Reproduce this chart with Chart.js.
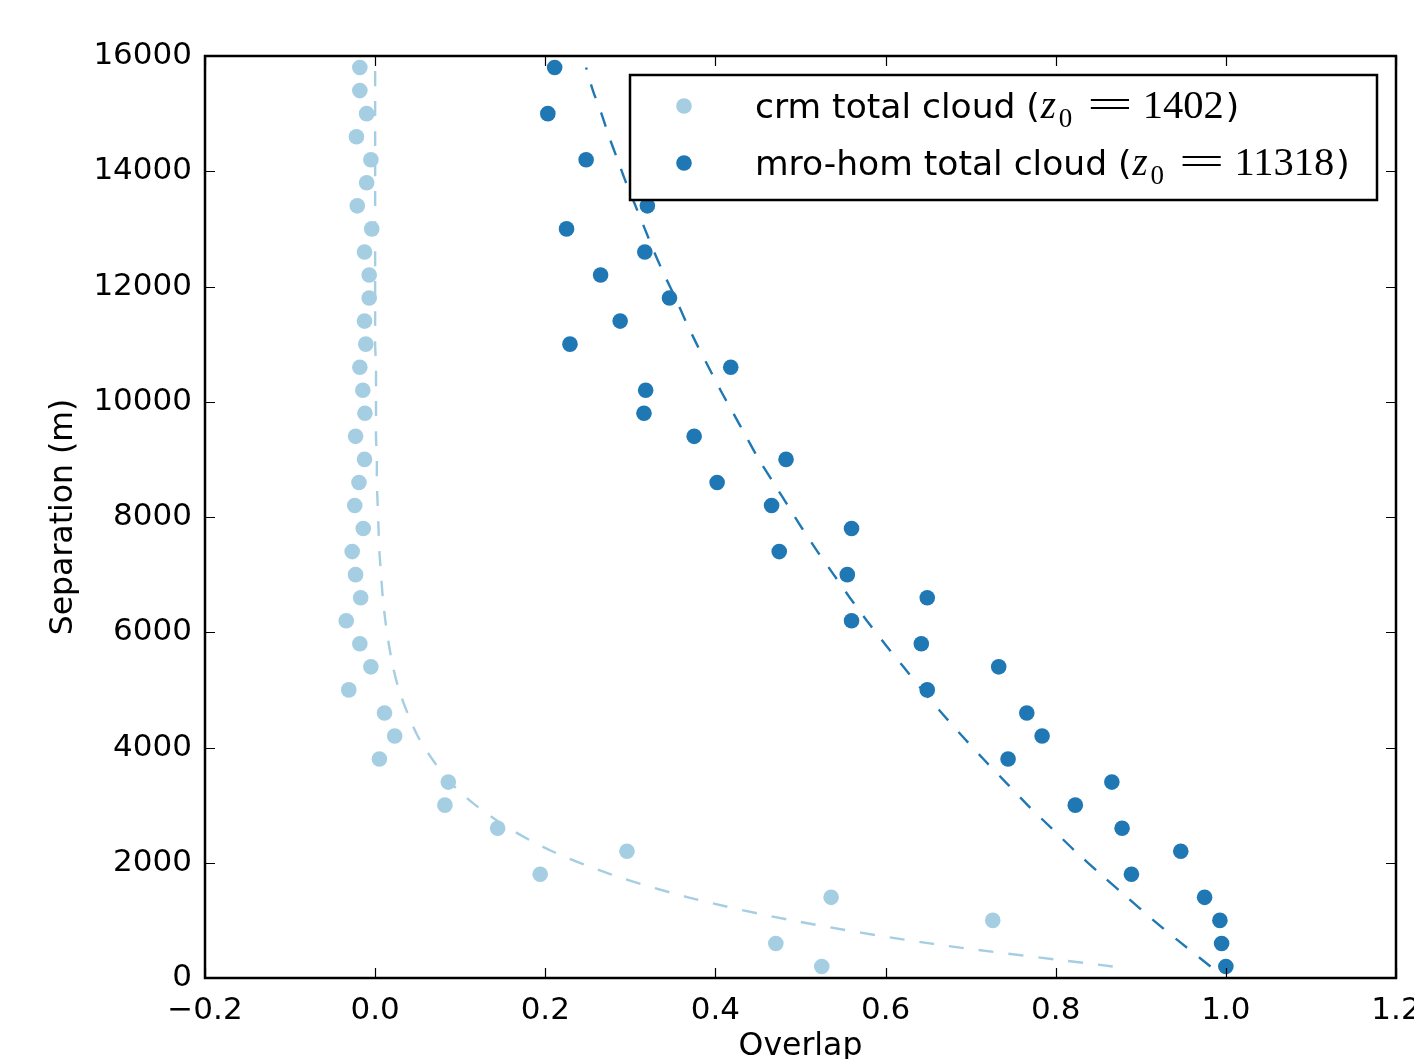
<!DOCTYPE html>
<html>
<head>
<meta charset="utf-8">
<script src="https://cdn.jsdelivr.net/npm/chart.js@4.4.1/dist/chart.umd.min.js"></script>
<style>
  body { margin: 0; background: #fff; }
  canvas { display: block; }
</style>
</head>
<body>
<canvas id="overlap" width="1414" height="1059"></canvas>
<script>
// separation between levels (m), one sample every 400 m
const separation = [200, 600, 1000, 1400, 1800, 2200, 2600, 3000, 3400, 3800,
    4200, 4600, 5000, 5400, 5800, 6200, 6600, 7000, 7400, 7800,
    8200, 8600, 9000, 9400, 9800, 10200, 10600, 11000, 11400, 11800,
    12200, 12600, 13000, 13400, 13800, 14200, 14600, 15000, 15400, 15800];

// overlap
const crmOverlap = [0.525, 0.471, 0.726, 0.536, 0.194, 0.296, 0.144, 0.082, 0.086, 0.005,
    0.023, 0.011, -0.031, -0.005, -0.018, -0.034, -0.017, -0.023, -0.027, -0.014,
    -0.024, -0.019, -0.0125, -0.023, -0.012, -0.0145, -0.018, -0.011, -0.0125, -0.007,
    -0.007, -0.0125, -0.004, -0.021, -0.010, -0.005, -0.022, -0.010, -0.018, -0.018];
// null = hidden behind the legend box
const mroOverlap = [1.000, 0.995, 0.993, 0.975, 0.889, 0.947, 0.878, 0.823, 0.866, 0.744,
    0.784, 0.766, 0.649, 0.733, 0.642, 0.560, 0.649, 0.555, 0.475, 0.560,
    0.466, 0.402, 0.483, 0.375, 0.316, 0.318, 0.418, 0.229, 0.288, 0.346,
    0.265, 0.317, 0.225, 0.320, null, 0.248, null, 0.203, null, 0.211];

// dashed fitted curves
const crmFit = [0.867, 0.652, 0.490, 0.368, 0.277, 0.208, 0.157, 0.118, 0.088, 0.067,
    0.050, 0.038, 0.028, 0.021, 0.016, 0.012, 0.009, 0.007, 0.005, 0.004,
    0.003, 0.002, 0.002, 0.001, 0.001, 0.001, 0.001, 0.000, 0.000, 0.000,
    0.000, 0.000, 0.000, 0.000, 0.000, 0.000, 0.000, 0.000, 0.000, 0.000];
const mroFit = [0.982, 0.948, 0.915, 0.884, 0.853, 0.823, 0.795, 0.767, 0.741, 0.715,
    0.690, 0.666, 0.643, 0.621, 0.599, 0.578, 0.558, 0.539, 0.520, 0.502,
    0.485, 0.468, 0.451, 0.436, 0.421, 0.406, 0.392, 0.378, 0.365, 0.353,
    0.340, 0.328, 0.317, 0.306, 0.295, 0.285, 0.275, 0.266, 0.256, 0.248];

const overlapTicks = [-0.2, 0.0, 0.2, 0.4, 0.6, 0.8, 1.0, 1.2];
const separationTicks = [0, 2000, 4000, 6000, 8000, 10000, 12000, 14000, 16000];

const legendLabels = ['crm total cloud', 'mro-hom total cloud'];
const legendZ0 = ['1402', '11318'];

const lightBlue = '#a6cee3';
const darkBlue = '#1f78b4';

function points(xs) {
    return separation.map((y, i) => ({ x: xs[i], y: y })).filter(p => p.x !== null);
}

const tickFont = { family: 'DejaVu Sans', size: 31 };
const titleFont = { family: 'DejaVu Sans', size: 31.5, lineHeight: 1 };

// frame, inward ticks and legend box, drawn on top like matplotlib
const framePlugin = {
    id: 'frame',
    afterDraw(chart) {
        const ctx = chart.ctx;
        const a = chart.chartArea;
        const xs = chart.scales.x, ys = chart.scales.y;
        ctx.save();
        ctx.strokeStyle = '#000';
        ctx.lineWidth = 1.2;
        ctx.beginPath();
        overlapTicks.forEach(v => {
            const px = Math.round(xs.getPixelForValue(v)) + 0.5;
            ctx.moveTo(px, a.bottom); ctx.lineTo(px, a.bottom - 10);
            ctx.moveTo(px, a.top); ctx.lineTo(px, a.top + 10);
        });
        separationTicks.forEach(v => {
            const py = Math.round(ys.getPixelForValue(v)) + 0.5;
            ctx.moveTo(a.left, py); ctx.lineTo(a.left + 10, py);
            ctx.moveTo(a.right, py); ctx.lineTo(a.right - 10, py);
        });
        ctx.stroke();
        ctx.lineWidth = 2.5;
        ctx.strokeRect(a.left, a.top, a.right - a.left, a.bottom - a.top);

        // legend
        const bx = a.right - 766, by = a.top + 19, bw = 747, bh = 125;
        ctx.fillStyle = '#fff';
        ctx.fillRect(bx, by, bw, bh);
        ctx.lineWidth = 2.5;
        ctx.strokeRect(bx, by, bw, bh);
        [lightBlue, darkBlue].forEach((col, i) => {
            const cy = by + 31 + i * 57;
            ctx.fillStyle = col;
            ctx.beginPath();
            ctx.arc(bx + 54, cy, 7.8, 0, Math.PI * 2);
            ctx.fill();

            const base = cy + 12;
            let x = bx + 125;
            ctx.fillStyle = '#000';
            ctx.textAlign = 'left';
            ctx.textBaseline = 'alphabetic';
            ctx.font = '34.5px "DejaVu Sans"';
            const lbl = legendLabels[i] + ' (';
            ctx.fillText(lbl, x, base);
            x += ctx.measureText(lbl).width;
            ctx.font = 'italic 39px "Liberation Serif"';
            ctx.fillText('z', x + 1, base);
            ctx.font = '27px "Liberation Serif"';
            ctx.fillText('0', x + 19, base + 9);
            // wide equals sign like the mathtext one
            ctx.save();
            ctx.font = '40px "Liberation Serif"';
            ctx.translate(x + 47, base);
            ctx.scale(2.05, 1);
            ctx.fillText('=', 0, 0);
            ctx.restore();
            ctx.font = '40.5px "Liberation Serif"';
            ctx.fillText(legendZ0[i], x + 103, base);
            x += 103 + ctx.measureText(legendZ0[i]).width;
            ctx.font = '34.5px "DejaVu Sans"';
            ctx.fillText(')', x + 2, base);
        });
        ctx.restore();
    }
};

new Chart(document.getElementById('overlap'), {
    type: 'scatter',
    data: {
        datasets: [{
            label: 'crm total cloud',
            data: points(crmOverlap),
            backgroundColor: lightBlue,
            pointRadius: 7.8,
            pointBorderWidth: 0
        }, {
            label: 'mro-hom total cloud',
            data: points(mroOverlap),
            backgroundColor: darkBlue,
            pointRadius: 7.8,
            pointBorderWidth: 0
        }, {
            data: points(crmFit),
            showLine: true,
            borderColor: lightBlue,
            borderWidth: 2.4,
            borderDash: [15, 15],
            pointRadius: 0,
            tension: 0.3
        }, {
            data: points(mroFit),
            showLine: true,
            borderColor: darkBlue,
            borderWidth: 2.4,
            borderDash: [15, 15],
            pointRadius: 0,
            tension: 0.3
        }]
    },
    options: {
        responsive: false,
        animation: false,
        devicePixelRatio: 1,
        layout: { padding: { top: 56, right: 18, left: 0, bottom: 0 } },
        plugins: {
            legend: { display: false },
            tooltip: { enabled: false }
        },
        scales: {
            x: {
                type: 'linear',
                min: -0.2,
                max: 1.2,
                afterBuildTicks: s => { s.ticks = overlapTicks.map(v => ({ value: v })); },
                afterFit: s => { s.height = 81; s.paddingLeft = 0; s.paddingRight = 0; },
                grid: { display: false },
                border: { display: false },
                ticks: {
                    color: '#000',
                    font: tickFont,
                    padding: 6,
                    maxRotation: 0,
                    autoSkip: false,
                    callback: v => v.toFixed(1).replace('-', '\u2212')
                },
                title: {
                    display: true,
                    text: 'Overlap',
                    color: '#000',
                    font: titleFont,
                    padding: { top: 0, bottom: -4 }
                }
            },
            y: {
                type: 'linear',
                min: 0,
                max: 16000,
                afterBuildTicks: s => { s.ticks = separationTicks.map(v => ({ value: v })); },
                afterFit: s => { s.width = 205; s.paddingTop = 0; s.paddingBottom = 0; },
                grid: { display: false },
                border: { display: false },
                ticks: {
                    color: '#000',
                    font: tickFont,
                    padding: 5,
                    autoSkip: false,
                    callback: v => String(v)
                },
                title: {
                    display: true,
                    text: 'Separation (m)',
                    color: '#000',
                    font: titleFont,
                    padding: { top: 48, bottom: 0 }
                }
            }
        }
    },
    plugins: [framePlugin]
});
</script>
</body>
</html>
